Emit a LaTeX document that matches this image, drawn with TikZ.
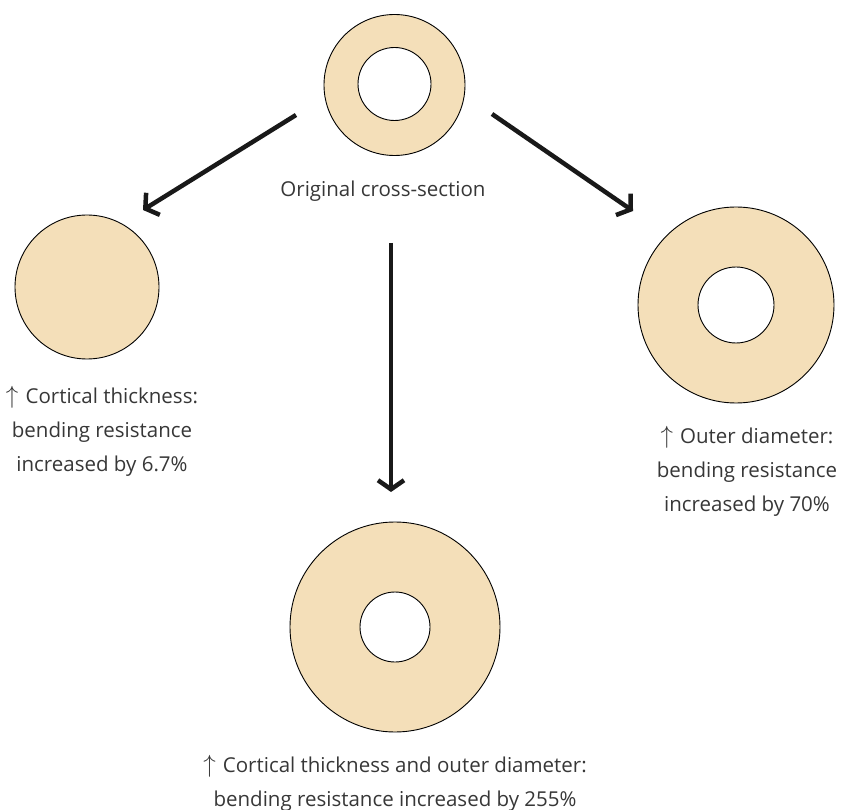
\documentclass[tikz,border=0pt]{standalone}
\usepackage{fontspec}
\setmainfont{Open Sans}
\usetikzlibrary{arrows.meta}
\definecolor{bone}{RGB}{244,223,185}
\definecolor{txt}{RGB}{55,55,55}
\newcommand{\uparr}{\scalebox{1.2}{$\uparrow$}\hspace{0.35em}}
\begin{document}
\begin{tikzpicture}[x=1pt,y=-1pt,
  section/.style={circle,draw=black,line width=0.9pt,fill=bone,inner sep=0pt},
  marrow/.style={circle,draw=black,line width=0.9pt,fill=white,inner sep=0pt},
  caption/.style={text=txt,align=center,font=\fontsize{20.5}{34}\selectfont},
  bigarrow/.style={draw=black!90,line width=4.5pt,-{Straight Barb[length=9pt,width=26pt,line width=4.5pt]}}]
\useasboundingbox (0,0) rectangle (841,810);
% original cross-section
\node[section,minimum size=141pt] (orig) at (394.5,85) {};
\node[marrow,minimum size=73pt] (origin) at (394.5,84) {};
\node[caption] (origlab) at (383,191) {Original cross-section};
% thicker cortex: solid section
\node[section,minimum size=144pt] (thick) at (87,287) {};
\node[caption] (thicklab) at (102,431) {\uparr Cortical thickness:\\bending resistance\\increased by 6.7\%};
% larger outer diameter
\node[section,minimum size=196pt] (wide) at (736,305) {};
\node[marrow,minimum size=76pt] (widein) at (736,305) {};
\node[caption] (widelab) at (747,471) {\uparr Outer diameter:\\bending resistance\\increased by 70\%};
% both together
\node[section,minimum size=210pt] (both) at (395,627) {};
\node[marrow,minimum size=70pt] (bothin) at (395,627) {};
\node[caption] (bothlab) at (395,783) {\uparr Cortical thickness and outer diameter:\\bending resistance increased by 255\%};
% arrows
\coordinate (aL0) at (296,115);
\coordinate (aL1) at (143,210);
\coordinate (aR0) at (492,114);
\coordinate (aR1) at (633,211);
\coordinate (aM0) at (391,243);
\coordinate (aM1) at (391,492);
\draw[bigarrow] (aL0) -- (aL1);
\draw[bigarrow] (aR0) -- (aR1);
\draw[bigarrow] (aM0) -- (aM1);
\end{tikzpicture}
\end{document}
